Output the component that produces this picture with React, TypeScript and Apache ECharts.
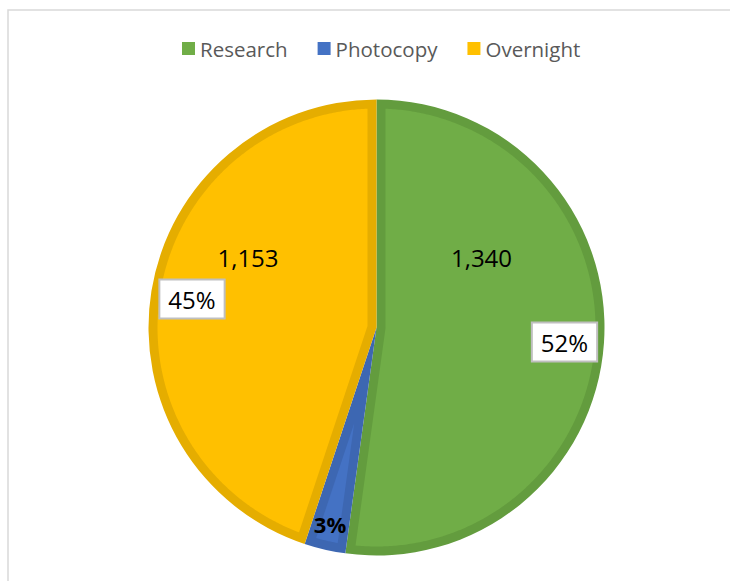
import React, { useEffect, useRef } from 'react';
import * as echarts from 'echarts';

// ---- data ----
const CATEGORIES = ['Research', 'Photocopy', 'Overnight'];
const VALUES = [1340, 75, 1153];
const SHOW_VALUE_LABEL = [true, false, true];

// ---- styles ----
const FILL_COLORS = ['#70AD47', '#4472C4', '#FFC000'];
const BAND_COLORS = ['#639C3E', '#3D67B2', '#E5AD00'];
const CENTER: [number, number] = [376.5, 327.5];
const RADIUS = 228;
const BAND = 9;
const VALUE_LABEL_POS = [[481.5, 257], [0, 0], [248, 257]];
const PCT_LABEL_POS = [[564.5, 342], [330, 524], [192, 299]];
const FONT = 'Open Sans';

const TOTAL = VALUES.reduce((a, b) => a + b, 0);

function insetPolygon(a1: number, a2: number): number[][] {
  const toRad = Math.PI / 180;
  const u = (deg: number, r: number) => [
    CENTER[0] + r * Math.sin(deg * toRad),
    CENTER[1] - r * Math.cos(deg * toRad),
  ];
  const rho = RADIUS - BAND;
  const delta = Math.asin(BAND / rho) / toRad;
  const theta = a2 - a1;
  const pts: number[][] = [];
  const start = a1 + delta;
  const end = a2 - delta;
  if (end <= start) return pts;
  const steps = Math.max(2, Math.ceil((end - start) / 0.5));
  for (let k = 0; k <= steps; k++) pts.push(u(start + ((end - start) * k) / steps, rho));
  if (theta < 180) {
    pts.push(u((a1 + a2) / 2, BAND / Math.sin((theta / 2) * toRad)));
  } else {
    const s = a2 - 90;
    const e = a1 + 90;
    const n = Math.max(2, Math.ceil((s - e) / 2));
    for (let k = 0; k <= n; k++) pts.push(u(s + ((e - s) * k) / n, BAND));
  }
  return pts;
}

export default function App() {
  const ref = useRef<HTMLDivElement>(null);
  useEffect(() => {
    if (!ref.current) return;
    const chart = echarts.init(ref.current, undefined, { renderer: 'svg' });
    const option: any = {
      animation: false,
      backgroundColor: '#ffffff',
      textStyle: { fontFamily: FONT },
      graphic: [
        {
          type: 'rect',
          shape: { x: 8, y: 10, width: 900, height: 800 },
          style: { fill: 'none', stroke: '#d9d9d9', lineWidth: 1.5 },
          silent: true,
          z: -1,
        },
      ],
      legend: {
        left: 177,
        top: 33,
        icon: 'rect',
        itemWidth: 13,
        itemHeight: 13,
        itemGap: 30,
        selectedMode: false,
        textStyle: { fontFamily: FONT, fontSize: 20.5, color: '#595959' },
        data: CATEGORIES.map((name, i) => ({ name, itemStyle: { color: FILL_COLORS[i] } })),
      },
      series: [
        {
          name: 'base',
          type: 'pie',
          z: 1,
          center: CENTER,
          radius: RADIUS,
          startAngle: 90,
          clockwise: true,
          silent: true,
          label: { show: false },
          labelLine: { show: false },
          emphasis: { disabled: true },
          itemStyle: { borderWidth: 0 },
          data: CATEGORIES.map((name, i) => ({
            name,
            value: VALUES[i],
            itemStyle: { color: BAND_COLORS[i] },
          })),
        },
        {
          name: 'inset',
          type: 'custom',
          coordinateSystem: 'none',
          z: 2,
          silent: true,
          data: VALUES.map((v, i) => [v, i]),
          renderItem: (params: any, api: any) => {
            const i = params.dataIndex;
            const before = VALUES.slice(0, i).reduce((a, b) => a + b, 0);
            const a1 = (before / TOTAL) * 360;
            const a2 = ((before + api.value(0)) / TOTAL) * 360;
            return {
              type: 'polygon',
              shape: { points: insetPolygon(a1, a2) },
              style: { fill: FILL_COLORS[i] },
            };
          },
        },
        {
          name: 'values',
          type: 'pie',
          z: 3,
          center: CENTER,
          radius: RADIUS,
          startAngle: 90,
          silent: true,
          emphasis: { disabled: true },
          itemStyle: { borderWidth: 0 },
          labelLine: { show: false },
          label: {
            show: true,
            position: 'inside',
            fontFamily: FONT,
            fontSize: 24,
            color: '#000000',
            formatter: (p: any) => Number(p.value).toLocaleString('en-US'),
          },
          labelLayout: (p: any) => ({
            x: VALUE_LABEL_POS[p.dataIndex][0],
            y: VALUE_LABEL_POS[p.dataIndex][1],
            align: 'center',
            verticalAlign: 'middle',
          }),
          data: CATEGORIES.map((name, i) => ({
            name,
            value: VALUES[i],
            itemStyle: { color: 'rgba(0,0,0,0)' },
            label: { show: SHOW_VALUE_LABEL[i] },
          })),
        },
        {
          name: 'percents',
          type: 'pie',
          z: 3,
          center: CENTER,
          radius: RADIUS,
          startAngle: 90,
          silent: true,
          emphasis: { disabled: true },
          itemStyle: { borderWidth: 0 },
          labelLine: { show: false },
          label: {
            show: true,
            position: 'inside',
            fontFamily: FONT,
            fontSize: 24,
            color: '#000000',
            backgroundColor: '#ffffff',
            borderColor: '#bfbfbf',
            borderWidth: 2,
            padding: [7, 8, 6, 8],
            formatter: (p: any) => Math.round(p.percent) + '%',
          },
          labelLayout: (p: any) => ({
            x: PCT_LABEL_POS[p.dataIndex][0],
            y: PCT_LABEL_POS[p.dataIndex][1],
            align: 'center',
            verticalAlign: 'middle',
          }),
          data: CATEGORIES.map((name, i) => ({
            name,
            value: VALUES[i],
            itemStyle: { color: 'rgba(0,0,0,0)' },
            ...(i === 1
              ? {
                  label: {
                    fontSize: 22,
                    fontWeight: 'bold',
                    backgroundColor: 'transparent',
                    borderWidth: 0,
                    padding: 0,
                  },
                }
              : {}),
          })),
        },
      ],
    };
    chart.setOption(option);
    return () => chart.dispose();
  }, []);
  return (
    <div
      ref={ref}
      style={{ position: 'fixed', left: 0, top: 0, width: 730, height: 581, background: '#fff' }}
    />
  );
}
